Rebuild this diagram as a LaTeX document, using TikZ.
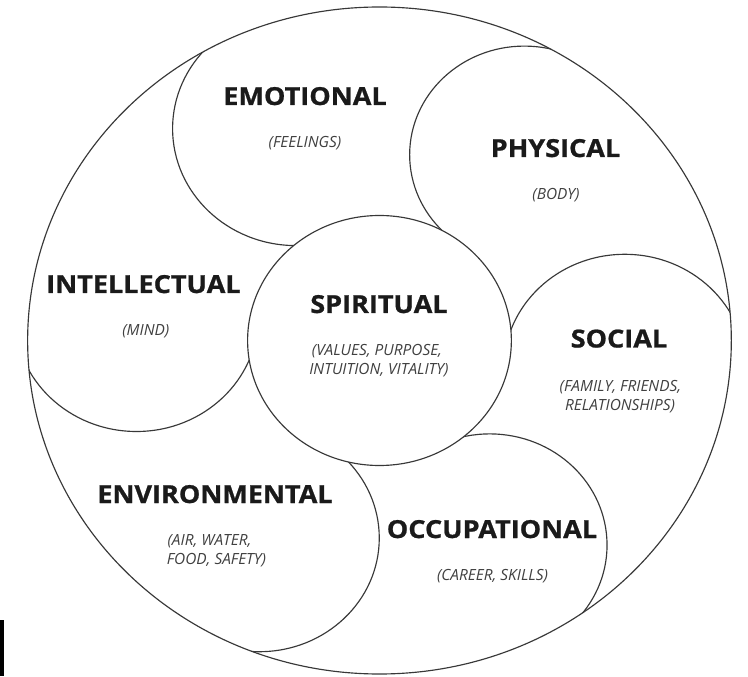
\documentclass[tikz,border=0pt]{standalone}
\usepackage{fontspec}
\setmainfont{Open Sans}
\newfontfamily\headfont{Open Sans}[FakeStretch=1.09, BoldFeatures={FakeBold=0.9}]
\definecolor{linecol}{HTML}{383838}
\definecolor{headcol}{HTML}{1A1A1A}
\definecolor{subcol}{HTML}{404040}
\begin{document}
\begin{tikzpicture}[x=1.055pt,y=1pt,
  ring/.style={draw=linecol,line width=1.15pt},
  head/.style={font=\headfont\fontsize{24.8}{28}\selectfont\bfseries,text=headcol,anchor=base,inner sep=0pt},
  sub/.style={font=\fontsize{15.4}{19}\selectfont\itshape,text=subcol,anchor=base,inner sep=0pt}]
\useasboundingbox (-359.7,-335.5) rectangle (349.3,340.5);
\fill[white] (-359.7,-335.5) rectangle (349.3,340.5);
\coordinate (O) at (0,0);
% petal arcs (each clipped to its counter-clockwise side)
\foreach \ang/\cx/\cy/\r in {110.5/-79.1/211.9/117,
                             53.5/137.3/185.7/108.7,
                             -7/232.5/-28.6/114.8,
                             -62.9/104.5/-204.6/111.2,
                             -120/-113.9/-197.5/113.7,
                             173.9/-230.3/24.5/115.5}{
  \begin{scope}
    \clip (O) circle[radius=333.5];
    \clip (O) -- (\ang:700) -- (\ang+45:700) -- (\ang+90:700) -- cycle;
    \draw[ring] (\cx,\cy) circle[radius=\r];
  \end{scope}
}
% central and outer circles
\draw[ring,fill=white] (O) circle[radius=125];
\draw[ring] (O) circle[radius=333.5];
% black bar at lower left edge
\fill[black] (-359.7,-335.5) rectangle (-355.9,-279.5);
% labels
\node[head] (emo) at (-70.6,235.5) {EMOTIONAL};
\node[sub]  (emos) at (-70.6,192.5) {(FEELINGS)};
\node[head] (phy) at (166.8,183.5) {PHYSICAL};
\node[sub]  (phys) at (167.3,140.5) {(BODY)};
\node[head] (int) at (-223.7,47.5) {INTELLECTUAL};
\node[sub]  (ints) at (-221.5,4.5) {(MIND)};
\node[head] (spi) at (-0.5,27.5) {SPIRITUAL};
\node[sub]  (spis1) at (-2.4,-15.5) {(VALUES, PURPOSE,};
\node[sub]  (spis2) at (-0.5,-34.5) {INTUITION, VITALITY)};
\node[head] (soc) at (227,-7) {SOCIAL};
\node[sub]  (socs1) at (228.4,-51.5) {(FAMILY, FRIENDS,};
\node[sub]  (socs2) at (228,-70.2) {RELATIONSHIPS)};
\node[head] (occ) at (106.6,-197.5) {OCCUPATIONAL};
\node[sub]  (occs) at (107.1,-240.2) {(CAREER, SKILLS)};
\node[head] (env) at (-155.9,-162.5) {ENVIRONMENTAL};
\node[sub]  (envs1) at (-161.1,-204.8) {(AIR, WATER,};
\node[sub]  (envs2) at (-154.5,-223.5) {FOOD, SAFETY)};
\end{tikzpicture}
\end{document}
